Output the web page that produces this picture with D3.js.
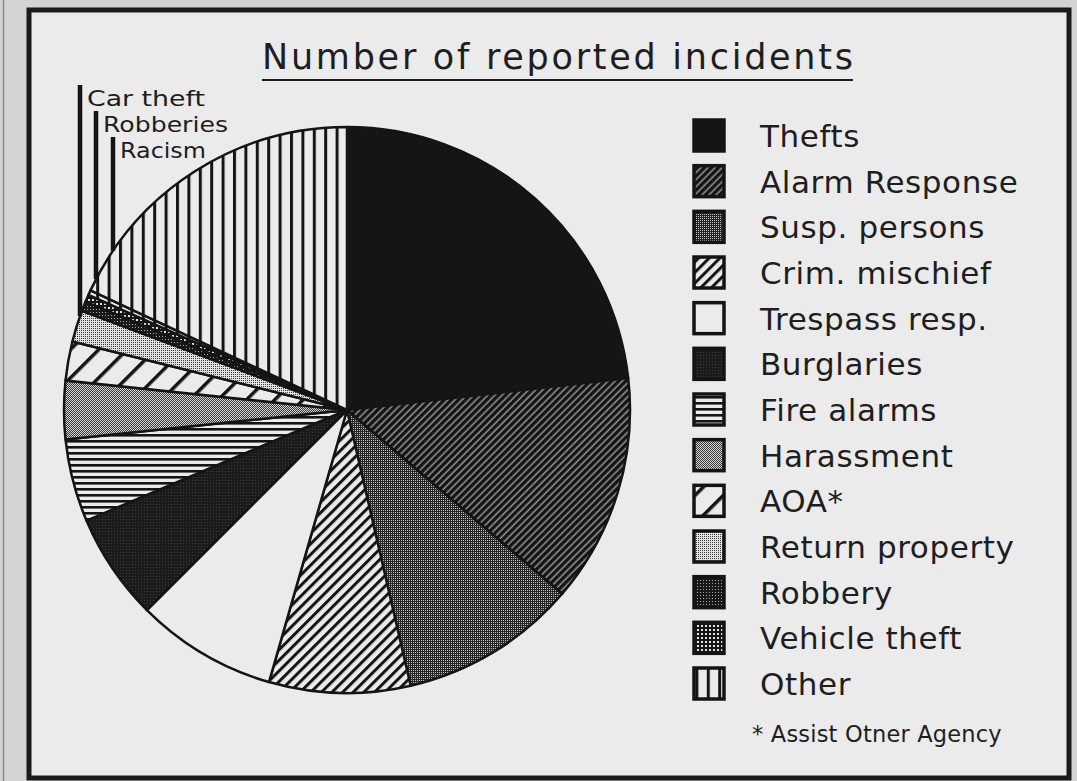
<!DOCTYPE html>
<html>
<head>
<meta charset="utf-8">
<script src="https://cdn.jsdelivr.net/npm/d3@7"></script>
<style>
  body { margin: 0; background: #d3d3d3; }
  svg { display: block; }
  text { font-family: "DejaVu Sans", sans-serif; fill: #1e1e1e; }
</style>
</head>
<body>
<div id="container"></div>
<script>
const width = 1077;
const height = 781;

const title = "Number of reported incidents";
// slices clockwise from 12 o'clock
const categories = ["Thefts", "Alarm Response", "Susp. persons", "Crim. mischief", "Trespass resp.",
  "Burglaries", "Fire alarms", "Harassment", "AOA*", "Return property", "Robbery",
  "Vehicle theft", "Racism", "Other"];
const values = [167, 94, 73, 58, 58, 44, 34, 24, 16, 13, 4, 3, 2, 130];
const fills = ["solid", "fineDiag", "darkDots", "diag", "blank", "burg", "horiz", "midDots",
  "wideDiag", "lightDots", "robDots", "grid", "vert", "vert"];
const legendNames = ["Thefts", "Alarm Response", "Susp. persons", "Crim. mischief", "Trespass resp.",
  "Burglaries", "Fire alarms", "Harassment", "AOA*", "Return property", "Robbery",
  "Vehicle theft", "Other"];
const callouts = ["Car theft", "Robberies", "Racism"];
const footnote = "* Assist Otner Agency";

const rows = categories.map((c, i) => ({ name: c, value: values[i], fill: fills[i] }));

const svg = d3.select("#container")
  .append("svg")
  .attr("width", width)
  .attr("height", height);

svg.append("line")
  .attr("x1", 3.5).attr("x2", 3.5).attr("y1", 0).attr("y2", height)
  .attr("stroke", "#8a8a8a").attr("stroke-width", 1.5);

// frame
svg.append("rect")
  .attr("x", 29).attr("y", 10)
  .attr("width", 1040).attr("height", 768)
  .attr("fill", "#ebebeb")
  .attr("stroke", "#1a1a1a")
  .attr("stroke-width", 5);

// fill patterns
const defs = svg.append("defs");
function pat(id, w, h, bg, transform) {
  const p = defs.append("pattern")
    .attr("id", id)
    .attr("patternUnits", "userSpaceOnUse")
    .attr("width", w).attr("height", h);
  if (transform) p.attr("patternTransform", transform);
  p.append("rect").attr("width", w).attr("height", h).attr("fill", bg);
  return p;
}
function px(p, x, y, w, h, c) {
  p.append("rect").attr("x", x).attr("y", y).attr("width", w).attr("height", h).attr("fill", c);
}
pat("solid", 4, 4, "#151515");
pat("blank", 4, 4, "#ebebeb");
px(pat("burg", 3, 3, "#1b1b1b"), 1, 1, 1, 1, "#3c3c3c");
px(pat("fineDiag", 5, 5, "#8e8e8e", "rotate(-45)"), 0, 0, 5, 3.4, "#141414");
px(pat("diag", 7.5, 7.5, "#ebebeb", "rotate(-45)"), 0, 0, 7.5, 3, "#141414");
px(pat("wideDiag", 20, 20, "#ebebeb", "rotate(-45)"), 0, 0, 20, 3.5, "#141414");
px(pat("horiz", 6, 6, "#ebebeb"), 0, 0, 6, 2.6, "#141414");
px(pat("vert", 11.4, 11.4, "#ebebeb"), 0, 0, 3, 11.4, "#141414");
const dd = pat("darkDots", 2, 2, "#262626");
px(dd, 0, 0, 1, 1, "#bdbdbd");
const md = pat("midDots", 2, 2, "#d6d6d6");
px(md, 0, 0, 1, 1, "#383838");
px(md, 1, 1, 1, 1, "#383838");
px(pat("lightDots", 2, 2, "#e2e2e2"), 0, 0, 1, 1, "#3a3a3a");
px(pat("robDots", 3, 3, "#191919"), 1, 1, 1, 1, "#a8a8a8");
px(pat("grid", 4, 4, "#151515"), 1, 1, 2, 2, "#e0e0e0");

// title
svg.append("text")
  .attr("x", 262).attr("y", 69)
  .attr("font-size", 35)
  .attr("textLength", 591)
  .attr("lengthAdjust", "spacing")
  .text(title);
svg.append("line")
  .attr("x1", 262).attr("x2", 853).attr("y1", 80).attr("y2", 80)
  .attr("stroke", "#1e1e1e").attr("stroke-width", 2.2);

// pie
const cx = 347, cy = 410, radius = 283;
const pie = d3.pie().sort(null).value(d => d.value);
const arc = d3.arc().innerRadius(0).outerRadius(radius);
const g = svg.append("g").attr("transform", `translate(${cx},${cy})`);
g.selectAll("path")
  .data(pie(rows))
  .join("path")
  .attr("d", arc)
  .attr("fill", d => `url(#${d.data.fill})`)
  .attr("stroke", "#141414")
  .attr("stroke-width", 2.5)
  .attr("stroke-linejoin", "round");

// callout labels with leader bars
const calloutX = [80, 96, 113];
const calloutY = [106, 132, 158];
const calloutW = [118, 125, 86];
callouts.forEach((label, i) => {
  const x = calloutX[i];
  const bottom = cy - Math.sqrt(radius * radius - (x - cx) * (x - cx));
  svg.append("line")
    .attr("x1", x).attr("x2", x)
    .attr("y1", calloutY[i] - 21).attr("y2", bottom)
    .attr("stroke", "#141414").attr("stroke-width", 4.5);
  svg.append("text")
    .attr("x", x + 7).attr("y", calloutY[i])
    .attr("font-size", 22)
    .attr("textLength", calloutW[i])
    .attr("lengthAdjust", "spacingAndGlyphs")
    .text(label);
});

// legend
const fillOf = new Map(rows.map(d => [d.name, d.fill]));
const ly = d3.scalePoint().domain(legendNames).range([147, 695]);
const legend = svg.append("g");
legend.selectAll("rect")
  .data(legendNames)
  .join("rect")
  .attr("x", 694).attr("y", d => ly(d) - 27)
  .attr("width", 30).attr("height", 31)
  .attr("fill", d => `url(#${fillOf.get(d)})`)
  .attr("stroke", "#141414")
  .attr("stroke-width", 3.5);
legend.selectAll("text")
  .data(legendNames)
  .join("text")
  .attr("x", 760).attr("y", d => ly(d))
  .attr("font-size", 31)
  .attr("letter-spacing", 0.6)
  .text(d => d);

svg.append("text")
  .attr("x", 752).attr("y", 742)
  .attr("font-size", 22.5)
  .attr("letter-spacing", 0.2)
  .text(footnote);
</script>
</body>
</html>
